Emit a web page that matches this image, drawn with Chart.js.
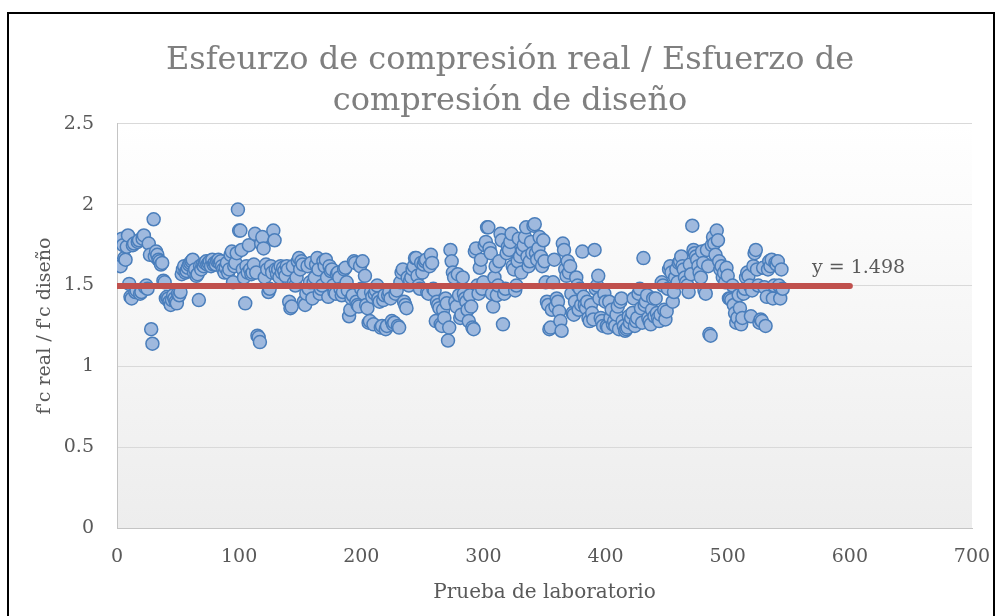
<!DOCTYPE html>
<html>
<head>
<meta charset="utf-8">
<script src="https://cdn.jsdelivr.net/npm/chart.js@4.4.1/dist/chart.umd.min.js"></script>
<style>
  html, body { margin: 0; padding: 0; background: #ffffff; }
  canvas { display: block; }
</style>
</head>
<body>
<canvas id="grafico" width="996" height="616"></canvas>
<script>
// relacion f'c real / f'c diseño, una por prueba (1..545)
var relacionFc = [
  1.78, 1.63, 1.62, 1.79, 1.75, 1.67, 1.66, 1.74, 1.81, 1.51,
  1.43, 1.42, 1.75, 1.76, 1.46, 1.47, 1.77, 1.78, 1.45, 1.46,
  1.79, 1.81, 1.49, 1.50, 1.48, 1.76, 1.69, 1.23, 1.14, 1.91,
  1.68, 1.71, 1.69, 1.66, 1.65, 1.63, 1.64, 1.53, 1.52, 1.42,
  1.43, 1.42, 1.40, 1.38, 1.41, 1.44, 1.42, 1.40, 1.39, 1.45,
  1.44, 1.46, 1.57, 1.60, 1.62, 1.58, 1.59, 1.61, 1.63, 1.64,
  1.65, 1.66, 1.58, 1.60, 1.56, 1.57, 1.41, 1.62, 1.60, 1.63,
  1.62, 1.64, 1.65, 1.63, 1.64, 1.65, 1.62, 1.66, 1.63, 1.64,
  1.63, 1.65, 1.66, 1.64, 1.65, 1.62, 1.60, 1.58, 1.61, 1.64,
  1.58, 1.60, 1.69, 1.71, 1.52, 1.62, 1.64, 1.70, 1.97, 1.84,
  1.84, 1.72, 1.60, 1.55, 1.39, 1.62, 1.58, 1.75, 1.60, 1.57,
  1.58, 1.63, 1.82, 1.58, 1.19, 1.18, 1.15, 1.76, 1.80, 1.73,
  1.55, 1.63, 1.60, 1.46, 1.48, 1.62, 1.58, 1.84, 1.78, 1.60,
  1.57, 1.60, 1.55, 1.62, 1.58, 1.61, 1.59, 1.56, 1.62, 1.60,
  1.40, 1.36, 1.37, 1.62, 1.52, 1.50, 1.55, 1.65, 1.67, 1.60,
  1.65, 1.63, 1.40, 1.38, 1.45, 1.62, 1.48, 1.52, 1.64, 1.42,
  1.52, 1.55, 1.63, 1.67, 1.60, 1.45, 1.48, 1.50, 1.65, 1.62,
  1.66, 1.55, 1.43, 1.62, 1.59, 1.60, 1.50, 1.46, 1.45, 1.57,
  1.58, 1.55, 1.48, 1.44, 1.46, 1.60, 1.61, 1.52, 1.47, 1.31,
  1.35, 1.42, 1.44, 1.65, 1.64, 1.40, 1.38, 1.37, 1.62, 1.48,
  1.65, 1.45, 1.56, 1.38, 1.36, 1.27, 1.28, 1.46, 1.43, 1.26,
  1.45, 1.47, 1.50, 1.42, 1.40, 1.24, 1.25, 1.41, 1.44, 1.23,
  1.25, 1.44, 1.46, 1.42, 1.28, 1.26, 1.27, 1.45, 1.47, 1.25,
  1.24, 1.52, 1.58, 1.60, 1.40, 1.38, 1.36, 1.55, 1.50, 1.53,
  1.55, 1.60, 1.62, 1.67, 1.67, 1.56, 1.50, 1.48, 1.64, 1.58,
  1.63, 1.65, 1.66, 1.46, 1.45, 1.62, 1.69, 1.64, 1.48, 1.47,
  1.28, 1.40, 1.38, 1.36, 1.26, 1.25, 1.35, 1.30, 1.42, 1.39,
  1.16, 1.24, 1.72, 1.65, 1.58, 1.55, 1.40, 1.37, 1.57, 1.44,
  1.30, 1.32, 1.55, 1.45, 1.42, 1.40, 1.35, 1.28, 1.44, 1.37,
  1.24, 1.23, 1.71, 1.73, 1.50, 1.45, 1.61, 1.66, 1.48, 1.52,
  1.75, 1.77, 1.86, 1.86, 1.73, 1.70, 1.45, 1.37, 1.55, 1.62,
  1.44, 1.50, 1.65, 1.82, 1.78, 1.26, 1.45, 1.48, 1.70, 1.74,
  1.72, 1.77, 1.82, 1.62, 1.60, 1.47, 1.50, 1.65, 1.79, 1.68,
  1.58, 1.72, 1.75, 1.80, 1.86, 1.68, 1.62, 1.65, 1.77, 1.70,
  1.87, 1.88, 1.70, 1.66, 1.73, 1.80, 1.68, 1.62, 1.78, 1.65,
  1.52, 1.40, 1.38, 1.23, 1.24, 1.35, 1.52, 1.66, 1.37, 1.42,
  1.40, 1.34, 1.28, 1.22, 1.76, 1.72, 1.60, 1.56, 1.65, 1.58,
  1.62, 1.45, 1.33, 1.32, 1.40, 1.55, 1.50, 1.35, 1.48, 1.38,
  1.71, 1.43, 1.38, 1.36, 1.40, 1.30, 1.28, 1.38, 1.33, 1.29,
  1.72, 1.48, 1.50, 1.56, 1.42, 1.30, 1.28, 1.25, 1.45, 1.40,
  1.25, 1.24, 1.40, 1.30, 1.35, 1.26, 1.28, 1.25, 1.32, 1.37,
  1.23, 1.40, 1.42, 1.28, 1.25, 1.22, 1.23, 1.24, 1.31, 1.27,
  1.30, 1.33, 1.42, 1.25, 1.28, 1.30, 1.45, 1.48, 1.36, 1.27,
  1.67, 1.38, 1.40, 1.44, 1.30, 1.28, 1.26, 1.35, 1.42, 1.31,
  1.42, 1.33, 1.30, 1.28, 1.32, 1.52, 1.50, 1.35, 1.29, 1.34,
  1.48, 1.60, 1.62, 1.58, 1.40, 1.46, 1.55, 1.60, 1.52, 1.64,
  1.65, 1.68, 1.62, 1.60, 1.55, 1.52, 1.50, 1.46, 1.63, 1.57,
  1.87, 1.72, 1.70, 1.68, 1.66, 1.62, 1.58, 1.55, 1.71, 1.64,
  1.47, 1.45, 1.72, 1.62, 1.20, 1.19, 1.75, 1.80, 1.76, 1.69,
  1.84, 1.78, 1.65, 1.60, 1.62, 1.55, 1.58, 1.52, 1.61, 1.56,
  1.42, 1.42, 1.41, 1.50, 1.38, 1.33, 1.27, 1.30, 1.44, 1.36,
  1.26, 1.30, 1.45, 1.48, 1.55, 1.58, 1.56, 1.50, 1.31, 1.47,
  1.62, 1.70, 1.72, 1.60, 1.50, 1.27, 1.29, 1.28, 1.61, 1.49,
  1.25, 1.43, 1.60, 1.65, 1.62, 1.66, 1.42, 1.50, 1.64, 1.63,
  1.65, 1.50, 1.42, 1.60, 1.48
];

// linea de tendencia (promedio)
var promedio = 1.498;
var tendenciaX = [0, 600];
var etiquetaTendencia = 'y = 1.498';

var xTicks = [0, 100, 200, 300, 400, 500, 600, 700];
var yTicks = [0, 0.5, 1, 1.5, 2, 2.5];

var fuente = "'DejaVu Serif', serif";

var puntos = relacionFc.map(function (v, i) { return { x: i + 1, y: v }; });
var tendencia = tendenciaX.map(function (x) { return { x: x, y: promedio }; });

var fondoYMarco = {
  id: 'fondoYMarco',
  beforeDraw: function (chart) {
    var ctx = chart.ctx, a = chart.chartArea;
    ctx.save();
    var g = ctx.createLinearGradient(0, a.top, 0, a.bottom);
    g.addColorStop(0, '#ffffff');
    g.addColorStop(1, '#ededed');
    ctx.fillStyle = g;
    ctx.fillRect(a.left, a.top, a.right - a.left, a.bottom - a.top);
    ctx.restore();
  },
  afterDraw: function (chart) {
    var ctx = chart.ctx;
    ctx.save();
    ctx.strokeStyle = '#000000';
    ctx.lineWidth = 2;
    ctx.strokeRect(8, 13, 986, 610);
    ctx.restore();
  }
};

var textoTendencia = {
  id: 'textoTendencia',
  afterDatasetsDraw: function (chart) {
    var ctx = chart.ctx;
    var px = chart.scales.x.getPixelForValue(569);
    var py = chart.scales.y.getPixelForValue(1.61);
    ctx.save();
    ctx.font = "19px " + fuente;
    ctx.fillStyle = '#595959';
    ctx.textAlign = 'left';
    ctx.textBaseline = 'middle';
    ctx.fillText(etiquetaTendencia, px, py);
    ctx.restore();
  }
};

var ctx = document.getElementById('grafico');
var miGrafico = new Chart(ctx, {
  type: 'scatter',
  data: {
    datasets: [{
      label: 'Tendencia',
      data: tendencia,
      showLine: true,
      borderColor: '#c0504d',
      borderWidth: 6,
      borderCapStyle: 'round',
      pointRadius: 0,
      order: 0
    }, {
      label: "f'c real / f'c diseño",
      data: puntos,
      backgroundColor: '#9fb9de',
      borderColor: '#4a7ebb',
      borderWidth: 1.5,
      pointRadius: 6.5,
      order: 1
    }]
  },
  options: {
    responsive: false,
    animation: false,
    layout: { padding: { left: 24, right: 0, top: 0, bottom: 0 } },
    scales: {
      x: {
        type: 'linear',
        min: 0,
        max: 700,
        afterBuildTicks: function (s) { s.ticks = xTicks.map(function (v) { return { value: v }; }); },
        afterFit: function (s) { s.height = 88; s.paddingRight = 24; },
        grid: { display: false, drawTicks: false },
        border: { display: true, color: '#c4c4c4', width: 1 },
        ticks: {
          padding: 18, color: '#595959', font: { family: fuente, size: 19 },
          callback: function (v) { return String(v); }
        },
        title: {
          display: true,
          text: 'Prueba de laboratorio',
          color: '#595959',
          font: { family: fuente, size: 20 },
          padding: { top: 0, bottom: 11 }
        }
      },
      y: {
        min: 0,
        max: 2.5,
        afterBuildTicks: function (s) { s.ticks = yTicks.map(function (v) { return { value: v }; }); },
        afterFit: function (s) { s.width = 93; },
        grid: { color: '#d9d9d9', drawTicks: false },
        border: { display: true, color: '#c4c4c4', width: 1 },
        ticks: {
          padding: 23, color: '#595959', font: { family: fuente, size: 19 },
          callback: function (v) { return String(v); }
        },
        title: {
          display: true,
          text: "f'c real / f'c diseño",
          color: '#595959',
          font: { family: fuente, size: 19 },
          padding: { top: 10, bottom: 0 }
        }
      }
    },
    plugins: {
      legend: { display: false },
      tooltip: { enabled: false },
      title: {
        display: true,
        text: ['Esfeurzo de compresión real / Esfuerzo de', 'compresión de diseño'],
        color: '#7f7f7f',
        font: { family: fuente, size: 32, weight: 'normal', lineHeight: 1.28 },
        padding: { top: 40, bottom: 2 }
      }
    }
  },
  plugins: [fondoYMarco, textoTendencia]
});
</script>
</body>
</html>
